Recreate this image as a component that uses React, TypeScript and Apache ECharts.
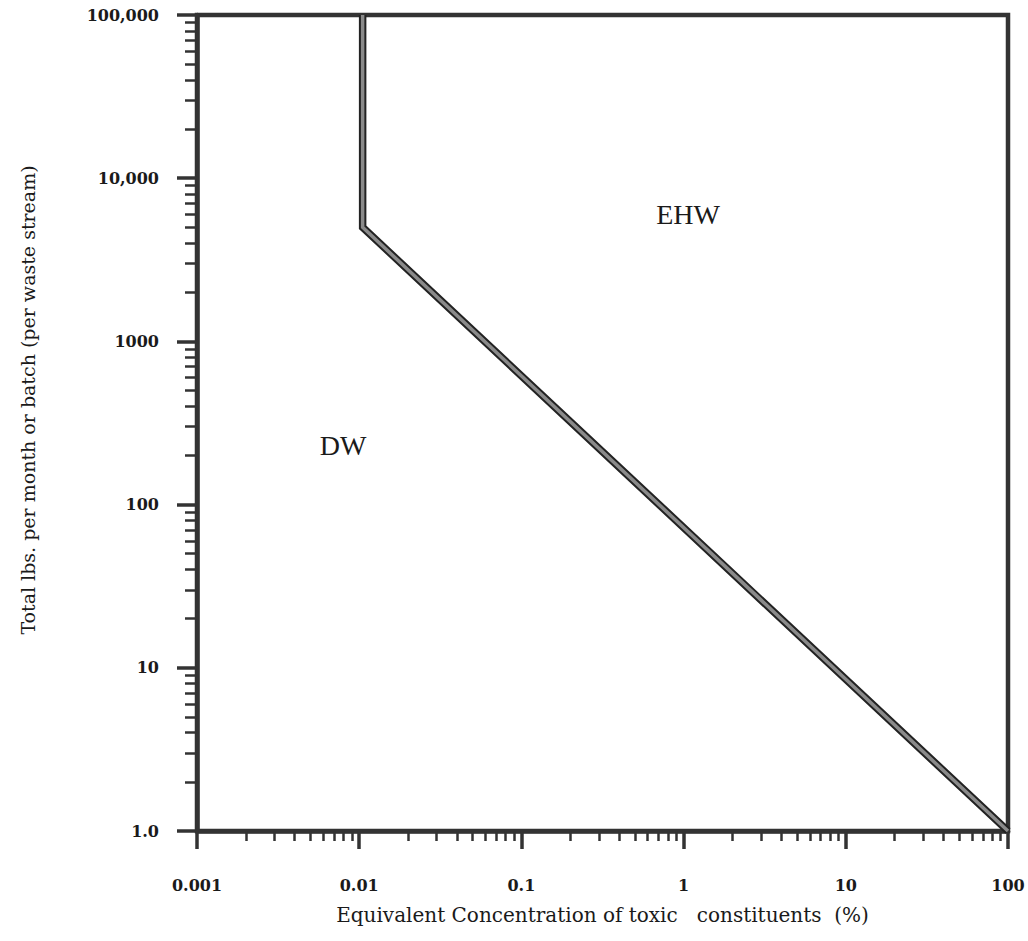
import React, { useEffect, useRef } from "react";
import * as echarts from "echarts";

// Axis ranges / tick labels
const xMin = 0.001;
const xMax = 100;
const yMin = 1;
const yMax = 100000;
const xTickLabels: Record<string, string> = {
  "0.001": "0.001",
  "0.01": "0.01",
  "0.1": "0.1",
  "1": "1",
  "10": "10",
  "100": "100",
};
const yTickLabels: Record<string, string> = {
  "1": "1.0",
  "10": "10",
  "100": "100",
  "1000": "1000",
  "10000": "10,000",
  "100000": "100,000",
};

// Boundary line between DW and EHW
const boundaryX = [0.0105, 0.0105, 100];
const boundaryY = [100000, 5000, 1];

const xTitle = "Equivalent Concentration of toxic   constituents  (%)";
const yTitle = "Total lbs. per month or batch (per waste stream)";
const regionLabels = ["DW", "EHW"];

export default function App() {
  const ref = useRef<HTMLDivElement>(null);
  useEffect(() => {
    if (!ref.current) return;
    const chart = echarts.init(ref.current, null, { renderer: "svg" });
    const data = boundaryX.map((x, i) => [x, boundaryY[i]]);
    const axisColor = "#333333";
    const tickFont = {
      fontFamily: "DejaVu Serif",
      fontWeight: "bold" as const,
      fontSize: 16,
      color: "#1a1a1a",
    };
    const fmt = (map: Record<string, string>) => (v: number) => {
      const key = String(Number(v.toPrecision(6)));
      return map[key] ?? "";
    };
    chart.setOption({
      animation: false,
      backgroundColor: "#ffffff",
      grid: {
        left: 197,
        right: 20,
        top: 15,
        bottom: 110,
        show: true,
        borderColor: axisColor,
        borderWidth: 4.5,
        backgroundColor: "transparent",
      },
      xAxis: {
        type: "log",
        logBase: 10,
        min: xMin,
        max: xMax,
        name: xTitle,
        nameLocation: "middle",
        nameGap: 74,
        nameTextStyle: {
          fontFamily: "DejaVu Serif",
          fontSize: 20,
          color: "#1a1a1a",
        },
        axisLine: { show: true, lineStyle: { color: axisColor, width: 4.5 } },
        axisTick: {
          show: true,
          inside: false,
          length: 18,
          lineStyle: { color: axisColor, width: 3.5 },
        },
        minorTick: {
          show: true,
          splitNumber: 9,
          length: 10,
          lineStyle: { color: axisColor, width: 2.5 },
        },
        axisLabel: { ...tickFont, margin: 46, formatter: fmt(xTickLabels) },
        splitLine: { show: false },
        minorSplitLine: { show: false },
      },
      yAxis: {
        type: "log",
        logBase: 10,
        min: yMin,
        max: yMax,
        axisLine: { show: true, lineStyle: { color: axisColor, width: 4.5 } },
        axisTick: {
          show: true,
          inside: false,
          length: 20,
          lineStyle: { color: axisColor, width: 3.5 },
        },
        minorTick: {
          show: true,
          splitNumber: 9,
          length: 12,
          lineStyle: { color: axisColor, width: 2.5 },
        },
        axisLabel: { ...tickFont, margin: 38, formatter: fmt(yTickLabels) },
        splitLine: { show: false },
        minorSplitLine: { show: false },
      },
      series: [
        {
          type: "line",
          data,
          symbol: "none",
          silent: true,
          lineStyle: { color: "#222222", width: 7.5, join: "miter" },
          z: 3,
        },
        {
          type: "line",
          data,
          symbol: "none",
          silent: true,
          lineStyle: { color: "#8a8a8a", width: 3.5, join: "miter" },
          z: 4,
        },
      ],
      graphic: [
        {
          type: "text",
          x: 28,
          y: 400,
          rotation: Math.PI / 2,
          style: {
            text: yTitle,
            font: "19px 'DejaVu Serif'",
            fill: "#1a1a1a",
            textAlign: "center",
            textVerticalAlign: "middle",
          },
        },
        {
          type: "text",
          x: 343,
          y: 445,
          style: {
            text: regionLabels[0],
            font: "28px 'Liberation Serif'",
            fill: "#1a1a1a",
            textAlign: "center",
            textVerticalAlign: "middle",
          },
        },
        {
          type: "text",
          x: 688,
          y: 214,
          style: {
            text: regionLabels[1],
            font: "28px 'Liberation Serif'",
            fill: "#1a1a1a",
            textAlign: "center",
            textVerticalAlign: "middle",
          },
        },
      ],
    });
    return () => chart.dispose();
  }, []);
  return (
    <div
      ref={ref}
      style={{ position: "fixed", left: 0, top: 0, width: 1028, height: 941, background: "#fff" }}
    />
  );
}
